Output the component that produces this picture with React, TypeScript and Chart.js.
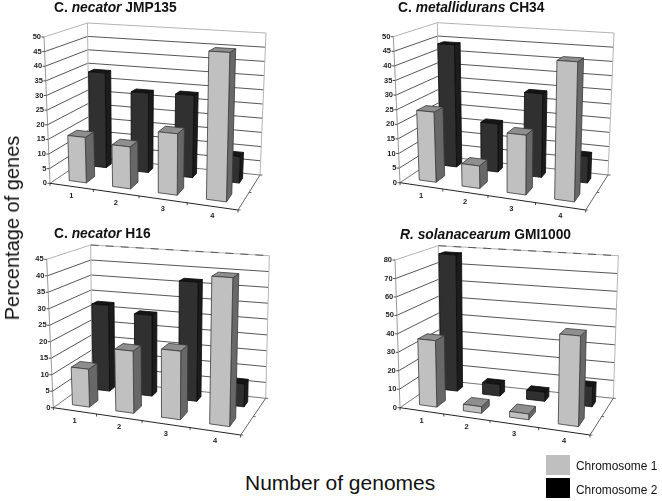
import React, { useEffect, useRef } from "react";
import { Chart, registerables } from "chart.js";

Chart.register(...registerables);

const categories = ["1", "2", "3", "4"];
const jmpChr1 = [15.5, 14, 20, 47.5];
const jmpChr2 = [34, 28, 28.5, 9];
const chChr1 = [24, 7.5, 19.5, 44.5];
const chChr2 = [44, 17, 29, 9];
const h16Chr1 = [11.5, 18.5, 20, 42.5];
const h16Chr2 = [27.5, 25.5, 37, 7];
const gmiChr1 = [36, 3.5, 3, 46];
const gmiChr2 = [78, 6.5, 5, 11];

type Pt = [number, number];
type Corners = { fbl: Pt; ftl: Pt; bbl: Pt; btl: Pt; fbr: Pt; ftr: Pt; bbr: Pt; btr: Pt };

const C1 = "#c0c0c0";
const C1_SIDE = "#686868";
const C1_TOP = "#8e8e8e";
const C2 = "#303030";
const C2_SIDE = "#1c1c1c";
const C2_TOP = "#161616";
const FRONT_ROW: Pt = [0.17, 0.4];
const BACK_ROW: Pt = [0.72, 0.86];

const warp = (u: number) => (u * 0.9) / (1 - 0.1 * u);

function makeProject(c: Corners) {
  return (uRaw: number, v: number, w: number): Pt => {
    const u = warp(uRaw);
    const mix = (k: 0 | 1) => {
      const fb = c.fbl[k] * (1 - u) + c.fbr[k] * u;
      const ft = c.ftl[k] * (1 - u) + c.ftr[k] * u;
      const bb = c.bbl[k] * (1 - u) + c.bbr[k] * u;
      const bt = c.btl[k] * (1 - u) + c.btr[k] * u;
      const f = fb * (1 - v) + ft * v;
      const b = bb * (1 - v) + bt * v;
      return f * (1 - w) + b * w;
    };
    return [mix(0), mix(1)];
  };
}

function line(ctx: CanvasRenderingContext2D, a: Pt, b: Pt, color: string, width = 1, dash: number[] = []) {
  ctx.save();
  ctx.strokeStyle = color;
  ctx.lineWidth = width;
  ctx.setLineDash(dash);
  ctx.beginPath();
  ctx.moveTo(a[0], a[1]);
  ctx.lineTo(b[0], b[1]);
  ctx.stroke();
  ctx.restore();
}

function face(ctx: CanvasRenderingContext2D, pts: Pt[], fill: string, stroke: string) {
  ctx.beginPath();
  pts.forEach((p, i) => (i ? ctx.lineTo(p[0], p[1]) : ctx.moveTo(p[0], p[1])));
  ctx.closePath();
  ctx.fillStyle = fill;
  ctx.fill();
  ctx.strokeStyle = stroke;
  ctx.lineWidth = 0.8;
  ctx.stroke();
}

function plugin3d(corners: Corners, ox: number, oy: number, dashedTop: boolean) {
  const c = {} as Corners;
  (Object.keys(corners) as (keyof Corners)[]).forEach((k) => {
    c[k] = [corners[k][0] - ox, corners[k][1] - oy];
  });
  const P = makeProject(c);
  return {
    id: "three-d",
    beforeDatasetDraw() {
      return false;
    },
    afterDraw(chart: any) {
      const ctx: CanvasRenderingContext2D = chart.ctx;
      const x = chart.scales.x;
      const y = chart.scales.y;
      const V = (val: number) => (y.bottom - y.getPixelForValue(val)) / (y.bottom - y.top);
      ctx.save();

      // walls
      const wall = "#b4b4b4";
      const grid = "#444444";
      y.ticks.forEach((t: any) => {
        const v = V(t.value);
        if (v > 0 && v < 1) {
          line(ctx, P(0, v, 0), P(0, v, 1), grid, 0.9);
          line(ctx, P(0, v, 1), P(1, v, 1), grid, 0.9);
        }
      });
      line(ctx, P(0, 1, 0), P(0, 1, 1), wall);
      line(ctx, P(0, 1, 1), P(1, 1, 1), wall);
      if (dashedTop) line(ctx, P(0, 1, 1), P(1, 1, 1), "#555", 1, [8, 7]);
      line(ctx, P(0, 0, 1), P(0, 1, 1), wall);
      line(ctx, P(1, 0, 1), P(1, 1, 1), wall);
      line(ctx, P(0, 0, 1), P(1, 0, 1), "#777");
      line(ctx, P(0, 0, 0), P(0, 0, 1), "#777");
      line(ctx, P(0, 0, 0), P(0, 1, 0), "#999");
      line(ctx, P(1, 0, 0), P(1, 0, 1), "#666");

      // bars: back row, then front row
      const rows = [
        { idx: 1, depth: BACK_ROW, f: C2, s: C2_SIDE, t: C2_TOP, e: "#0a0a0a" },
        { idx: 0, depth: FRONT_ROW, f: C1, s: C1_SIDE, t: C1_TOP, e: "#3a3a3a" },
      ];
      rows.forEach((r) => {
        chart.getDatasetMeta(r.idx).data.forEach((el: any) => {
          const u0 = (el.x - el.width / 2 - x.left) / x.width;
          const u1 = (el.x + el.width / 2 - x.left) / x.width;
          const v1 = (y.bottom - el.y) / (y.bottom - y.top);
          const v0 = 0;
          const [w0, w1] = r.depth;
          face(ctx, [P(u1, v0, w0), P(u1, v0, w1), P(u1, v1, w1), P(u1, v1, w0)], r.s, r.e);
          face(ctx, [P(u0, v1, w0), P(u1, v1, w0), P(u1, v1, w1), P(u0, v1, w1)], r.t, r.e);
          face(ctx, [P(u0, v0, w0), P(u1, v0, w0), P(u1, v1, w0), P(u0, v1, w0)], r.f, r.e);
        });
      });

      // axes in front
      line(ctx, P(0, 0, 0), P(1, 0, 0), "#222", 1);
      ctx.font = "bold 7.5px 'Liberation Sans'";
      ctx.fillStyle = "#222";
      ctx.textAlign = "right";
      ctx.textBaseline = "middle";
      y.ticks.forEach((t: any) => {
        const p = P(0, V(t.value), 0);
        line(ctx, p, [p[0] - 2.5, p[1]], "#222", 0.8);
        ctx.fillText(String(t.label), p[0] - 3, p[1]);
      });
      ctx.textAlign = "center";
      categories.forEach((_, i) => {
        const u = (x.getPixelForValue(i) - x.left) / x.width;
        const p = P(u, 0, 0);
        ctx.fillText(x.getLabelForValue(i), p[0], p[1] + 10);
      });
      for (let k = 0; k <= 4; k++) {
        const p = P(k / 4, 0, 0);
        line(ctx, p, [p[0], p[1] + 2.5], "#222", 0.8);
      }
      for (let k = 0; k <= 2; k++) {
        const p = P(1, 0, k / 2);
        line(ctx, p, [p[0] + 2.5, p[1]], "#444", 0.8);
      }
      ctx.restore();
    },
  };
}

type PanelProps = {
  left: number;
  top: number;
  first: number[];
  second: number[];
  max: number;
  step: number;
  corners: Corners;
  dashedTop: boolean;
};

function Panel({ left, top, first, second, max, step, corners, dashedTop }: PanelProps) {
  const ref = useRef<HTMLCanvasElement>(null);
  useEffect(() => {
    const chart = new Chart(ref.current!, {
      type: "bar",
      data: {
        labels: categories,
        datasets: [
          { label: "Chromosome 1", data: first, backgroundColor: C1, grouped: false, categoryPercentage: 1, barPercentage: 0.4 },
          { label: "Chromosome 2", data: second, backgroundColor: C2, grouped: false, categoryPercentage: 1, barPercentage: 0.4 },
        ],
      },
      options: {
        responsive: false,
        animation: false,
        layout: { padding: 0 },
        plugins: { legend: { display: false }, title: { display: false }, tooltip: { enabled: false } },
        scales: {
          x: { display: false, offset: true },
          y: { display: false, min: 0, max, ticks: { stepSize: step } },
        },
      },
      plugins: [plugin3d(corners, left, top, dashedTop)],
    } as any);
    return () => chart.destroy();
  }, []);
  return <canvas ref={ref} width={331} height={230} style={{ position: "absolute", left, top, width: 331, height: 230 }} />;
}

const textBase: React.CSSProperties = {
  position: "absolute",
  fontFamily: "'Liberation Sans', sans-serif",
  whiteSpace: "pre",
  color: "#111",
};

function Title({ x, y, a, b, c }: { x: number; y: number; a: string; b: string; c: string }) {
  return (
    <div style={{ ...textBase, left: x, top: y - 8, lineHeight: "16px", fontSize: 13.8, fontWeight: "bold" }}>
      {a}
      <i>{b}</i>
      {c}
    </div>
  );
}

export default function App() {
  return (
    <div style={{ position: "absolute", left: 0, top: 0, width: 662, height: 501, background: "#fff", overflow: "hidden" }}>
      <Panel left={0} top={0} first={jmpChr1} second={jmpChr2} max={50} step={5} dashedTop={false}
        corners={{ fbl: [50, 183.3], ftl: [44, 37], bbl: [89, 157], btl: [87.5, 23], fbr: [238, 210], ftr: [242, 48], bbr: [260, 175], btr: [266, 33] }} />
      <Panel left={331} top={0} first={chChr1} second={chChr2} max={50} step={5} dashedTop={false}
        corners={{ fbl: [400, 182.7], ftl: [393.3, 36.7], bbl: [440, 156], btl: [437.3, 22.7], fbr: [585.7, 210], ftr: [590, 48], bbr: [608, 175], btr: [614, 33] }} />
      <Panel left={0} top={230} first={h16Chr1} second={h16Chr2} max={45} step={5} dashedTop={true}
        corners={{ fbl: [53.3, 407.7], ftl: [46.7, 259.3], bbl: [92, 380], btl: [90.7, 245], fbr: [240.7, 435], ftr: [245, 273], bbr: [265.7, 398.3], btr: [269.3, 255.7] }} />
      <Panel left={331} top={230} first={gmiChr1} second={gmiChr2} max={80} step={10} dashedTop={true}
        corners={{ fbl: [400, 407.7], ftl: [395, 260], bbl: [440, 380], btl: [438.3, 245.7], fbr: [590, 435], ftr: [594, 273], bbr: [613.3, 398.3], btr: [618.3, 255.7] }} />

      <Title x={54} y={8} a="C. " b="necator" c=" JMP135" />
      <Title x={398} y={8} a="C. " b="metallidurans" c=" CH34" />
      <Title x={54} y={234} a="C. " b="necator" c=" H16" />
      <Title x={400} y={235} b="R. solanacearum" a="" c=" GMI1000" />

      <div style={{ ...textBase, left: 12, top: 228, fontSize: 20, lineHeight: "24px", transform: "translate(-50%,-50%) rotate(-90deg)" }}>
        Percentage of genes
      </div>
      <div style={{ ...textBase, left: 245, top: 471, fontSize: 21, lineHeight: "24px" }}>Number of genomes</div>

      <div style={{ position: "absolute", left: 546, top: 455, width: 24, height: 20, background: "#bfbfbf" }} />
      <div style={{ position: "absolute", left: 546, top: 478, width: 24, height: 20, background: "#000" }} />
      <div style={{ ...textBase, left: 576, top: 459, fontSize: 11.9, lineHeight: "14px" }}>Chromosome 1</div>
      <div style={{ ...textBase, left: 576, top: 483, fontSize: 11.9, lineHeight: "14px" }}>Chromosome 2</div>
    </div>
  );
}
